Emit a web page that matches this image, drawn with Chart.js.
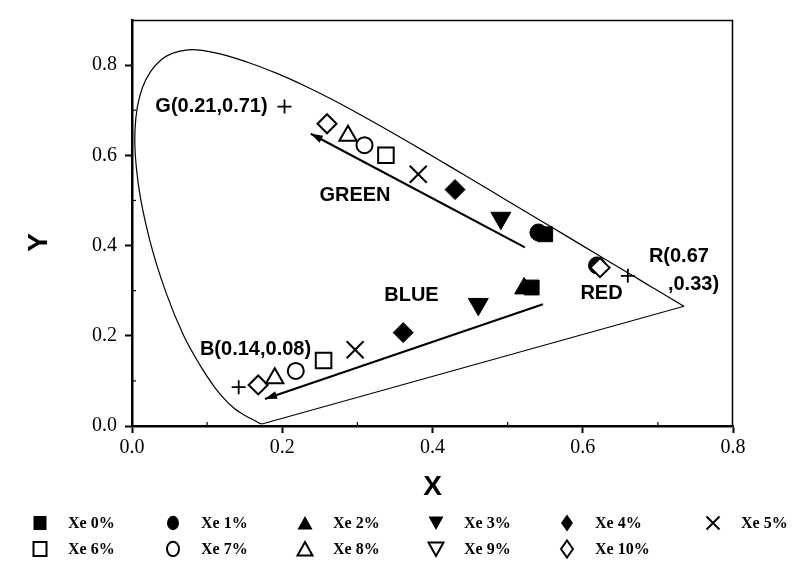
<!DOCTYPE html>
<html>
<head>
<meta charset="utf-8">
<script src="https://cdn.jsdelivr.net/npm/chart.js@4.4.1/dist/chart.umd.min.js"></script>
<style>
html,body{margin:0;padding:0;background:#fff;}
#wrap{width:812px;height:573px;}
</style>
</head>
<body>
<div id="wrap"><canvas id="c" width="812" height="573"></canvas></div>
<script>
// ---------------- data ----------------
const seriesLabels = ['Xe 0%','Xe 1%','Xe 2%','Xe 3%','Xe 4%','Xe 5%','Xe 6%','Xe 7%','Xe 8%','Xe 9%','Xe 10%'];

// chromaticity points (green branch, blue branch, red branch where visible)
const xe0X = [0.550, 0.532];          const xe0Y = [0.425, 0.307];
const xe1X = [0.541, 0.619];          const xe1Y = [0.429, 0.356];
const xe2X = [0.522];                 const xe2Y = [0.305];
const xe3X = [0.491, 0.461];          const xe3Y = [0.461, 0.270];
const xe4X = [0.430, 0.361];          const xe4Y = [0.524, 0.207];
const xe5X = [0.381, 0.297];          const xe5Y = [0.558, 0.169];
const xe6X = [0.338, 0.255];          const xe6Y = [0.600, 0.145];
const xe7X = [0.3095, 0.218];         const xe7Y = [0.6225, 0.122];
const xe8X = [0.2875, 0.190];         const xe8Y = [0.6435, 0.106];
const xe9X = [];                      const xe9Y = [];
const xe10X = [0.2596, 0.168, 0.623]; const xe10Y = [0.670, 0.091, 0.351];

// CIE 1931 spectral locus (as drawn)
const locusX = [0.1741,0.1733,0.1714,0.1689,0.1644,0.1566,0.1510,0.1440,0.1355,0.1241,0.1096,0.0913,0.0687,0.0454,0.0235,0.0082,0.0039,0.0139,0.0389,0.0743,0.1142,0.1547,0.1929,0.2296,0.2658,0.3016,0.3373,0.3731,0.4087,0.4441,0.4788,0.5125,0.5448,0.5752,0.6029,0.6270,0.6482,0.6658,0.6915,0.7079,0.7190,0.7260,0.7300,0.7347];
const locusY = [0.0050,0.0048,0.0051,0.0069,0.0109,0.0177,0.0227,0.0297,0.0399,0.0578,0.0868,0.1327,0.2007,0.2950,0.4127,0.5384,0.6548,0.7502,0.8120,0.8338,0.8262,0.8059,0.7816,0.7543,0.7243,0.6923,0.6589,0.6245,0.5896,0.5547,0.5202,0.4866,0.4544,0.4242,0.3965,0.3725,0.3514,0.3340,0.3083,0.2920,0.2809,0.2740,0.2700,0.2653];
const purpleX = [0.7347, 0.1741];
const purpleY = [0.2653, 0.0050];

// primaries (+ marks)
const primaryX = [0.203, 0.142, 0.660];
const primaryY = [0.708, 0.086, 0.333];

// arrows (tail -> head)
const greenArrowX = [0.523, 0.238];  const greenArrowY = [0.396, 0.648];
const blueArrowX  = [0.547, 0.177];  const blueArrowY  = [0.270, 0.060];

// annotation texts
const noteTexts = ['G(0.21,0.71)','GREEN','BLUE','RED','R(0.67',',0.33)','B(0.14,0.08)'];
const noteX     = [0.1058, 0.2968, 0.372, 0.625, 0.728, 0.7474, 0.1644];
const noteY     = [0.7077, 0.5108, 0.2897, 0.293, 0.3748, 0.3129, 0.1692];

const xTickValues = [0, 0.2, 0.4, 0.6, 0.8];
const yTickValues = [0, 0.2, 0.4, 0.6, 0.8];

// ---------------- styles ----------------
const seriesX = [xe0X,xe1X,xe2X,xe3X,xe4X,xe5X,xe6X,xe7X,xe8X,xe9X,xe10X];
const seriesY = [xe0Y,xe1Y,xe2Y,xe3Y,xe4Y,xe5Y,xe6Y,xe7Y,xe8Y,xe9Y,xe10Y];
const markerStyle = [
  {s:'rect',     rot:0,   r:10.5, fill:true},
  {s:'circle',   rot:0,   r:8.5,  fill:true},
  {s:'triangle', rot:0,   r:11,   fill:true},
  {s:'triangle', rot:180, r:11.5, fill:true},
  {s:'rectRot',  rot:0,   r:10,   fill:true},
  {s:'crossRot', rot:0,   r:12,   fill:false},
  {s:'rect',     rot:0,   r:11,   fill:false},
  {s:'circle',   rot:0,   r:8,    fill:false},
  {s:'triangle', rot:0,   r:10,   fill:false},
  {s:'triangle', rot:180, r:10,   fill:false},
  {s:'rectRot',  rot:0,   r:9.5,  fill:false}
];

const pts = (xs, ys) => xs.map((x, i) => ({x: x, y: ys[i]}));

const datasets = [];
seriesLabels.forEach((lab, i) => {
  const m = markerStyle[i];
  datasets.push({
    label: lab,
    data: pts(seriesX[i], seriesY[i]),
    showLine: false,
    pointStyle: m.s,
    pointRotation: m.rot,
    pointRadius: m.r,
    pointHoverRadius: m.r,
    pointBackgroundColor: m.fill ? '#000' : '#fff',
    pointBorderColor: '#000',
    pointBorderWidth: m.fill ? 1 : 2,
    order: m.fill ? 2 : 1,
    isSeries: true
  });
});
datasets.push({label:'locus', data: pts(locusX, locusY), showLine:true, borderColor:'#000', borderWidth:1.2, pointRadius:0, tension:0.35, order:6});
datasets.push({label:'purple', data: pts(purpleX, purpleY), showLine:true, borderColor:'#000', borderWidth:1.1, pointRadius:0, tension:0, order:6});
datasets.push({label:'primaries', data: pts(primaryX, primaryY), showLine:false, pointStyle:'cross', pointRadius:7, pointBorderWidth:1.8, pointBorderColor:'#000', order:3});
datasets.push({label:'greenArrow', data: pts(greenArrowX, greenArrowY), showLine:true, borderColor:'#000', borderWidth:2.2, pointRadius:0, tension:0, order:4, arrow:true});
datasets.push({label:'blueArrow', data: pts(blueArrowX, blueArrowY), showLine:true, borderColor:'#000', borderWidth:2.2, pointRadius:0, tension:0, order:4, arrow:true});

// ---------------- plugins ----------------
function drawLegendMarker(ctx, m, cx, cy) {
  ctx.save();
  ctx.lineWidth = 2;
  ctx.strokeStyle = '#000';
  ctx.fillStyle = m.fill ? '#000' : '#fff';
  ctx.beginPath();
  if (m.s === 'rect') {
    ctx.rect(cx - 6.5, cy - 7, 13, 14);
  } else if (m.s === 'circle') {
    ctx.ellipse(cx, cy, 6, 7.2, 0, 0, Math.PI * 2);
  } else if (m.s === 'triangle') {
    if (m.rot === 180) {
      ctx.moveTo(cx - 7.5, cy - 6.5); ctx.lineTo(cx + 7.5, cy - 6.5); ctx.lineTo(cx, cy + 7);
    } else {
      ctx.moveTo(cx, cy - 7); ctx.lineTo(cx + 7.5, cy + 6.5); ctx.lineTo(cx - 7.5, cy + 6.5);
    }
    ctx.closePath();
  } else if (m.s === 'rectRot') {
    ctx.moveTo(cx, cy - 8.5); ctx.lineTo(cx + 6, cy); ctx.lineTo(cx, cy + 8.5); ctx.lineTo(cx - 6, cy);
    ctx.closePath();
  } else if (m.s === 'crossRot') {
    ctx.moveTo(cx - 6.5, cy - 6.5); ctx.lineTo(cx + 6.5, cy + 6.5);
    ctx.moveTo(cx + 6.5, cy - 6.5); ctx.lineTo(cx - 6.5, cy + 6.5);
    ctx.stroke(); ctx.restore(); return;
  }
  ctx.fill();
  if (!m.fill) ctx.stroke();
  ctx.restore();
}

const legendColX = [40, 173, 305, 436, 567, 713];
const legendRowY = [523, 549];

const decorPlugin = {
  id: 'decor',
  afterDatasetsDraw(chart) {
    const ctx = chart.ctx;
    const xs = chart.scales.x, ys = chart.scales.y;
    const a = chart.chartArea;
    ctx.save();
    // frame top & right
    ctx.strokeStyle = '#000';
    ctx.lineWidth = 1.5;
    ctx.beginPath();
    ctx.moveTo(a.left, a.top + 0.5); ctx.lineTo(a.right - 0.5, a.top + 0.5); ctx.lineTo(a.right - 0.5, a.bottom);
    ctx.stroke();
    // minor inward ticks
    ctx.lineWidth = 1.2;
    [0.1, 0.3, 0.5, 0.7].forEach(v => {
      const px = xs.getPixelForValue(v);
      ctx.beginPath(); ctx.moveTo(px, a.bottom); ctx.lineTo(px, a.bottom - 4); ctx.stroke();
      const py = ys.getPixelForValue(v);
      ctx.beginPath(); ctx.moveTo(a.left, py); ctx.lineTo(a.left + 4, py); ctx.stroke();
    });
    // arrowheads
    chart.data.datasets.forEach(ds => {
      if (!ds.arrow) return;
      const p0 = ds.data[0], p1 = ds.data[1];
      const x0 = xs.getPixelForValue(p0.x), y0 = ys.getPixelForValue(p0.y);
      const x1 = xs.getPixelForValue(p1.x), y1 = ys.getPixelForValue(p1.y);
      const ang = Math.atan2(y1 - y0, x1 - x0);
      const L = 12, W = 4;
      ctx.fillStyle = '#000';
      ctx.beginPath();
      ctx.moveTo(x1, y1);
      ctx.lineTo(x1 - L * Math.cos(ang) + W * Math.sin(ang), y1 - L * Math.sin(ang) - W * Math.cos(ang));
      ctx.lineTo(x1 - L * Math.cos(ang) - W * Math.sin(ang), y1 - L * Math.sin(ang) + W * Math.cos(ang));
      ctx.closePath();
      ctx.fill();
    });
    // annotation texts
    ctx.fillStyle = '#000';
    ctx.font = 'bold 20px "Liberation Sans", Arial, sans-serif';
    ctx.textAlign = 'center';
    ctx.textBaseline = 'middle';
    noteTexts.forEach((t, i) => {
      ctx.fillText(t, xs.getPixelForValue(noteX[i]), ys.getPixelForValue(noteY[i]));
    });
    ctx.restore();
  },
  afterDraw(chart) {
    const ctx = chart.ctx;
    ctx.save();
    ctx.font = 'bold 16px "Liberation Serif", "Times New Roman", serif';
    ctx.fillStyle = '#000';
    ctx.textAlign = 'left';
    ctx.textBaseline = 'middle';
    chart.data.datasets.forEach((ds, i) => {
      if (!ds.isSeries) return;
      const row = i < 6 ? 0 : 1;
      const col = i % 6;
      const cx = legendColX[col], cy = legendRowY[row];
      drawLegendMarker(ctx, markerStyle[i], cx, cy);
      ctx.fillText(ds.label, cx + 28, cy + 1);
    });
    ctx.restore();
  }
};

const tickFont = {family: '"Liberation Serif", "Times New Roman", serif', size: 20};
const titleFont = {family: '"Liberation Sans", Arial, sans-serif', size: 28, weight: 'bold'};

new Chart(document.getElementById('c'), {
  type: 'scatter',
  data: {datasets: datasets},
  options: {
    responsive: false,
    animation: false,
    devicePixelRatio: 1,
    layout: {padding: {top: 19, right: 79, bottom: 69, left: 0}},
    plugins: {legend: {display: false}, tooltip: {enabled: false}},
    scales: {
      x: {
        type: 'linear', min: 0, max: 0.8,
        afterBuildTicks: s => { s.ticks = xTickValues.map(v => ({value: v})); },
        ticks: {stepSize: 0.2, callback: v => Number(v).toFixed(1), font: tickFont, color: '#000', padding: 3, maxRotation: 0},
        grid: {drawOnChartArea: false, drawTicks: true, tickLength: 7, tickColor: '#000', tickWidth: 2},
        border: {color: '#000', width: 2.5},
        title: {display: true, text: 'X', font: titleFont, color: '#000', padding: 0},
        afterFit: s => { s.height = 78; }
      },
      y: {
        type: 'linear', min: 0, max: 0.9,
        afterBuildTicks: s => { s.ticks = yTickValues.map(v => ({value: v})); },
        ticks: {stepSize: 0.2, includeBounds: false, callback: v => Number(v).toFixed(1), font: tickFont, color: '#000', padding: 8},
        grid: {drawOnChartArea: false, drawTicks: true, tickLength: 7, tickColor: '#000', tickWidth: 2},
        border: {color: '#000', width: 2.5},
        title: {display: true, text: 'Y     ', font: titleFont, color: '#000', padding: {top: 22, bottom: 0}},
        afterFit: s => { s.width = 132; }
      }
    }
  },
  plugins: [decorPlugin]
});
</script>
</body>
</html>
